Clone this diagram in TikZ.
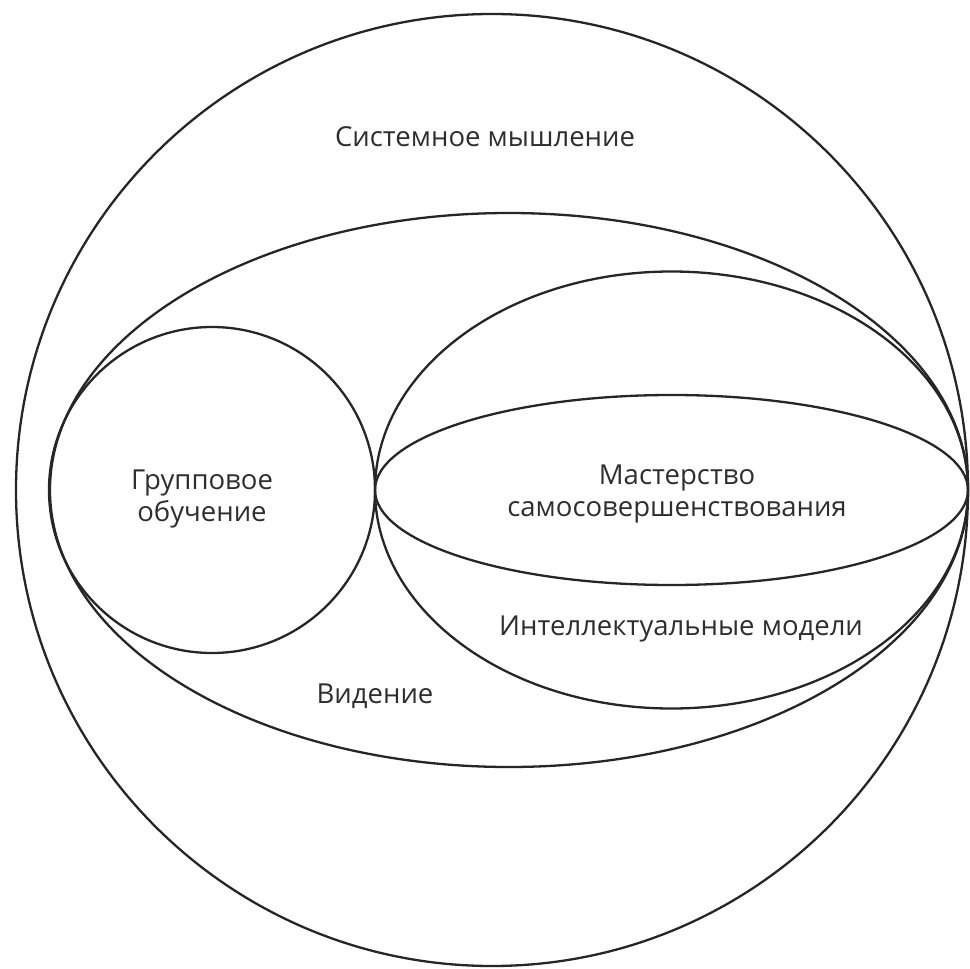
\documentclass[tikz,border=0pt]{standalone}
\usepackage{fontspec}
\setmainfont{Open Sans}
\usetikzlibrary{shapes.geometric}
\begin{document}
\begin{tikzpicture}[x=1pt,y=-1pt,
  shapeline/.style={draw=black!85, line width=2.3pt, inner sep=0pt, outer sep=0pt},
  lbl/.style={font=\fontsize{27.5}{32}\selectfont, text=black!82, align=center, inner sep=0pt}]
\useasboundingbox (0,0) rectangle (970,969);
\node[shapeline, circle, minimum size=952pt] (sys) at (492,490) {};
\node[shapeline, ellipse, minimum width=918pt, minimum height=554pt] (vis) at (509,490) {};
\node[shapeline, circle, minimum size=326pt] (grp) at (212,490) {};
\node[shapeline, ellipse, minimum width=593pt, minimum height=437pt] (mod) at (671.5,490) {};
\node[shapeline, ellipse, minimum width=593pt, minimum height=190pt] (mas) at (671.5,490) {};
\node[lbl, anchor=base] (tsys) at (485,146) {Системное мышление};
\node[lbl] (tgrp) at (202,499) {Групповое\\обучение};
\node[lbl] (tmas) at (677,494) {Мастерство\\самосовершенствования};
\node[lbl, anchor=base] (tmod) at (681,635) {Интеллектуальные модели};
\node[lbl, anchor=base] (tvis) at (375,703) {Видение};
\end{tikzpicture}
\end{document}
